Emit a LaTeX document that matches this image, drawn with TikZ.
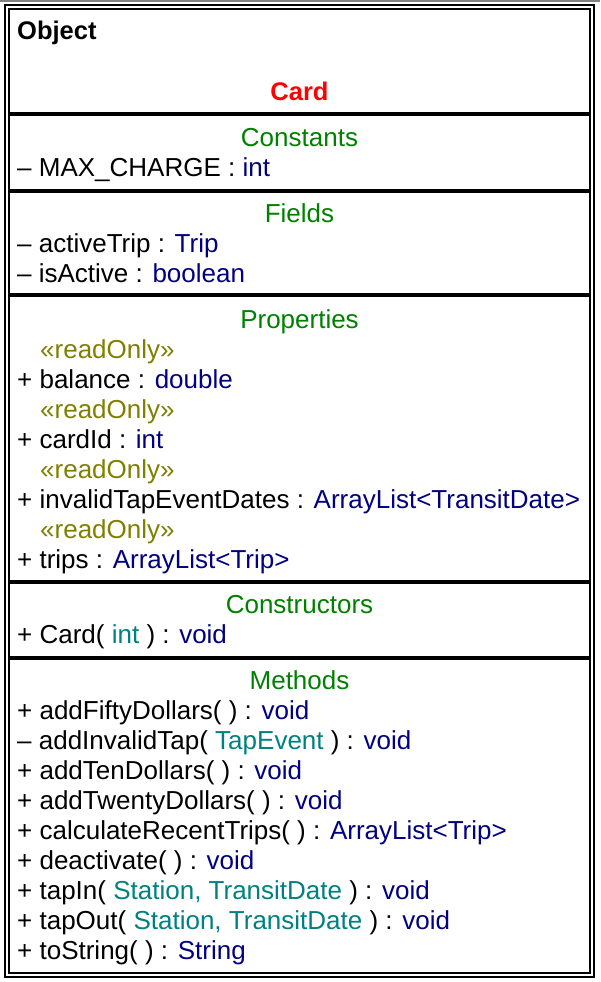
\documentclass[tikz,border=0pt]{standalone}
\usepackage{fontspec}
\setmainfont{Liberation Sans}
\definecolor{umlred}{RGB}{255,0,0}
\definecolor{umlgreen}{RGB}{0,128,0}
\definecolor{umlnavy}{RGB}{0,0,128}
\definecolor{umlteal}{RGB}{0,128,128}
\definecolor{umlolive}{RGB}{128,128,0}
\newcommand{\utype}[1]{\textcolor{umlnavy}{#1}}
\newcommand{\uparam}[1]{\textcolor{umlteal}{#1}}

\begin{document}
\begin{tikzpicture}[
    x=1pt, y=-1pt,
    every node/.style={inner sep=0pt, font=\fontsize{26}{30}\selectfont},
    member node/.style={anchor=base west},
    stereo node/.style={anchor=base west, text=umlolive},
    head node/.style={anchor=base, text=umlgreen},
    frame line/.style={line width=2pt},
    sep line/.style={line width=4pt}
]
    \useasboundingbox (0,0) rectangle (600,982);

    % double frame
    \draw[gray, line width=2pt] (0,1) -- (600,1);
    \draw[frame line] (5,5) rectangle (594,977);
    \draw[frame line] (9,9) rectangle (590,973);
    \foreach \y in {114,190.5,295.3,581.7,658.3}
        \draw[sep line] (9,\y) -- (590,\y);

    % name compartment
    \node[member node, font=\fontsize{25.5}{30}\selectfont\bfseries] (super) at (17,40) {Object};
    \node[anchor=base, text=umlred, font=\fontsize{25.5}{30}\selectfont\bfseries] (name) at (299.5,100) {Card};

    % constants
    \node[head node] (consthead) at (299.5,146) {Constants};
    \node[member node] (maxcharge) at (17,176) {– MAX\_CHARGE : \utype{int}};

    % fields
    \node[head node] (fieldhead) at (299.5,222) {Fields};
    \node[member node] (activetrip) at (17,252) {– activeTrip : \utype{Trip}};
    \node[member node] (isactive)   at (17,282) {– isActive : \utype{boolean}};

    % properties
    \node[head node] (prophead) at (299.5,328) {Properties};
    \node[stereo node] (ro1) at (40,358) {«readOnly»};
    \node[member node] (balance) at (17,388) {+ balance : \utype{double}};
    \node[stereo node] (ro2) at (40,418) {«readOnly»};
    \node[member node] (cardid) at (17,448) {+ cardId : \utype{int}};
    \node[stereo node] (ro3) at (40,478) {«readOnly»};
    \node[member node] (invalid) at (17,508) {+ invalidTapEventDates : \utype{ArrayList<TransitDate>}};
    \node[stereo node] (ro4) at (40,538) {«readOnly»};
    \node[member node] (trips) at (17,568) {+ trips : \utype{ArrayList<Trip>}};

    % constructors
    \node[head node] (ctorhead) at (299.5,613) {Constructors};
    \node[member node] (ctor) at (17,643) {+ Card( \uparam{int} ) : \utype{void}};

    % methods
    \node[head node] (methhead) at (299.5,689) {Methods};
    \node[member node] (m1) at (17,719) {+ addFiftyDollars( ) : \utype{void}};
    \node[member node] (m2) at (17,749) {– addInvalidTap( \uparam{TapEvent} ) : \utype{void}};
    \node[member node] (m3) at (17,779) {+ addTenDollars( ) : \utype{void}};
    \node[member node] (m4) at (17,809) {+ addTwentyDollars( ) : \utype{void}};
    \node[member node] (m5) at (17,839) {+ calculateRecentTrips( ) : \utype{ArrayList<Trip>}};
    \node[member node] (m6) at (17,869) {+ deactivate( ) : \utype{void}};
    \node[member node] (m7) at (17,899) {+ tapIn( \uparam{Station, TransitDate} ) : \utype{void}};
    \node[member node] (m8) at (17,929) {+ tapOut( \uparam{Station, TransitDate} ) : \utype{void}};
    \node[member node] (m9) at (17,959) {+ toString( ) : \utype{String}};
\end{tikzpicture}
\end{document}
